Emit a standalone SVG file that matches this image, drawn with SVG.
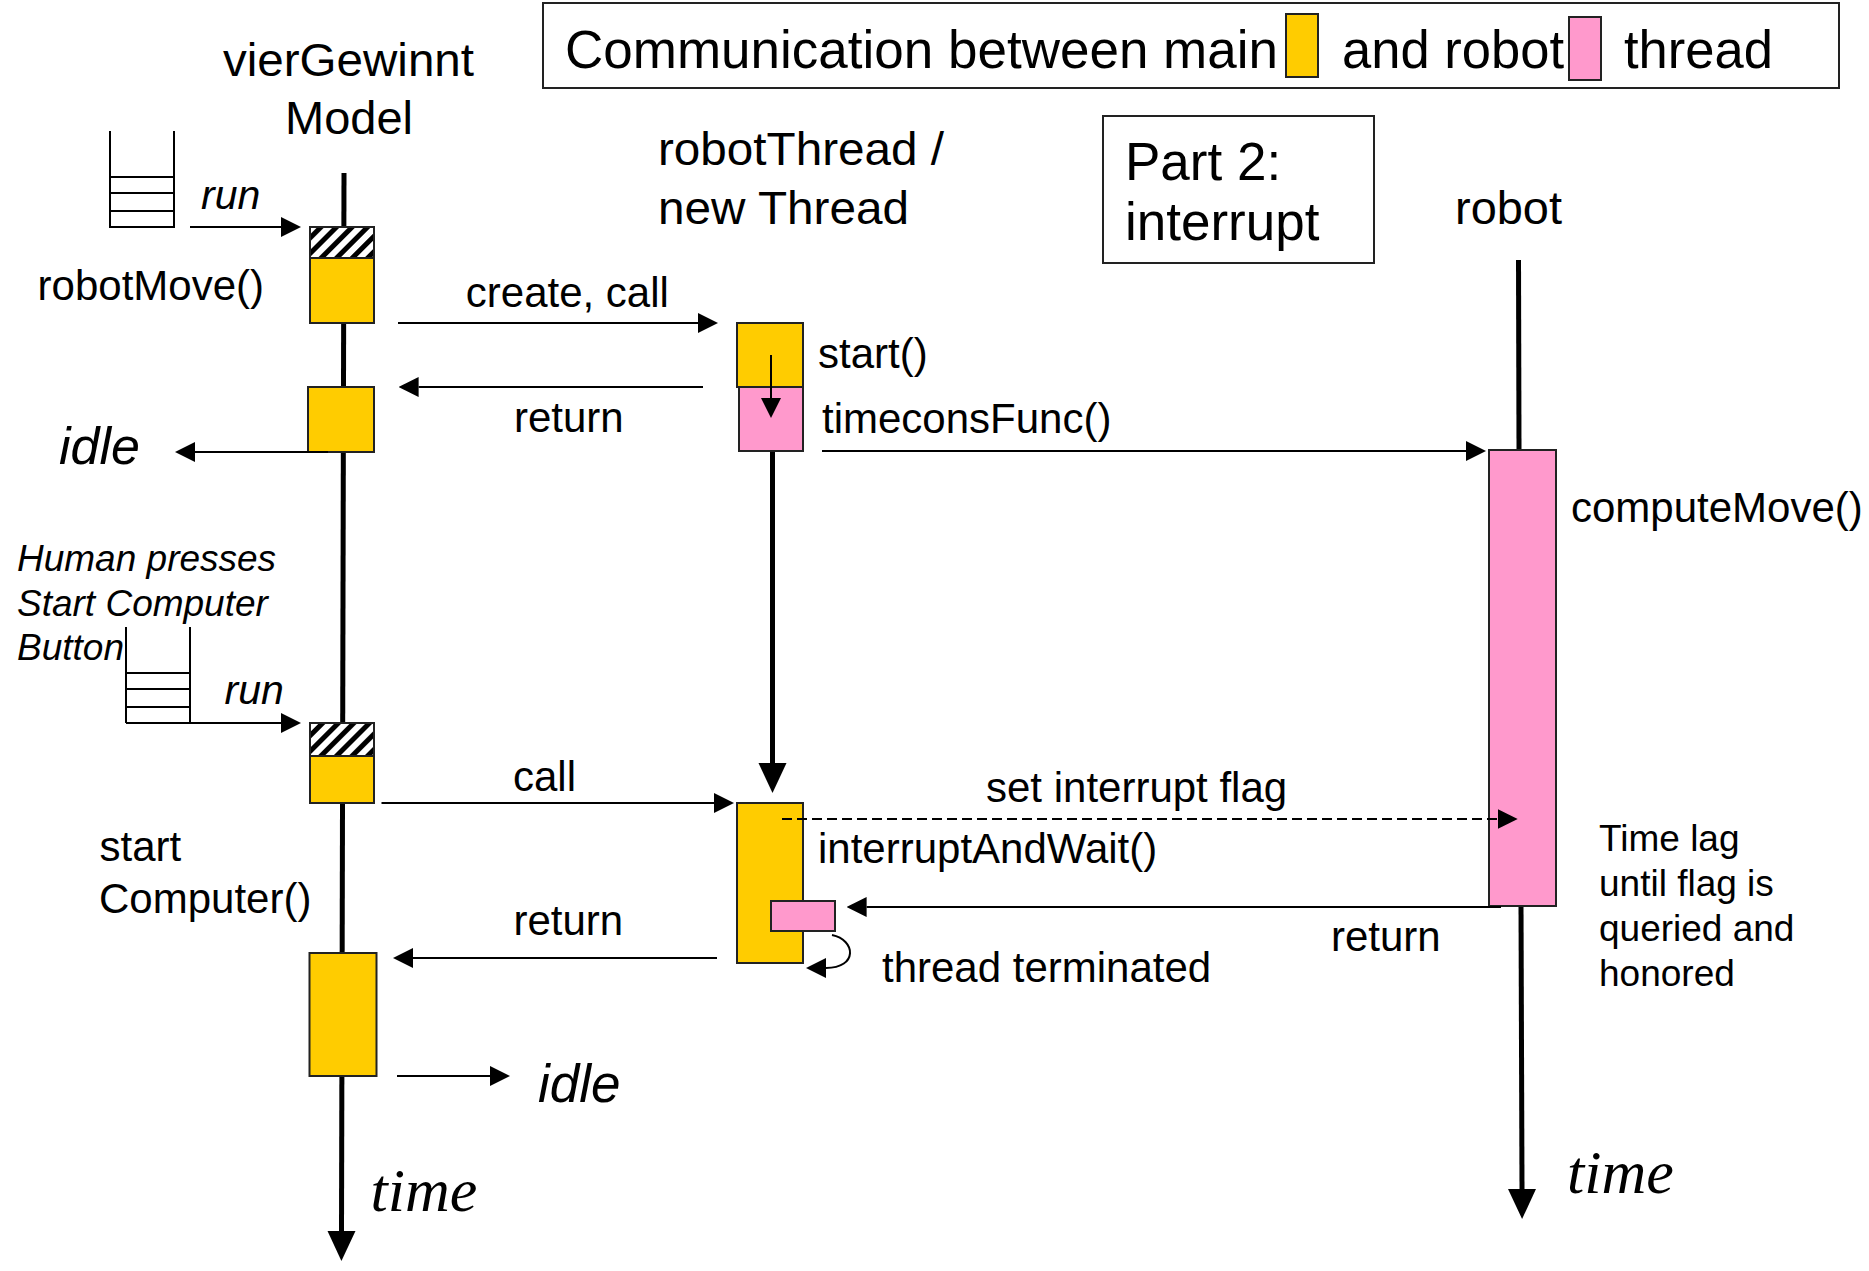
<svg xmlns="http://www.w3.org/2000/svg" width="1869" height="1271" viewBox="0 0 1869 1271">
<style>
text{font-family:"Liberation Sans",Arial,Helvetica,sans-serif;fill:#000}
.h{font-size:47px}
.b{font-size:42px}
.l{font-size:53px}
.n{font-size:37px}
.it{font-style:italic}
.tm{font-family:"Liberation Serif","Times New Roman",serif;font-style:italic;font-size:62px}
.frame{fill:#fff;stroke:#222;stroke-width:2}
.y{fill:#FFCC00;stroke:#222;stroke-width:2}
.p{fill:#FF99CC;stroke:#222;stroke-width:2}
.life{stroke:#000;stroke-width:5;fill:none}
.msg{stroke:#000;stroke-width:2;fill:none}
.stk{stroke:#000;stroke-width:2;fill:none}
</style>
<defs>
<marker id="a" markerUnits="userSpaceOnUse" markerWidth="20" markerHeight="20" viewBox="0 0 20 20" refX="0" refY="10" orient="auto"><path d="M0,0 L20,10 L0,20 z" fill="#000"/></marker>
<marker id="ab" markerUnits="userSpaceOnUse" markerWidth="30" markerHeight="30" viewBox="0 0 30 30" refX="0" refY="15" orient="auto"><path d="M0,1 L30,15 L0,29 z" fill="#000"/></marker>
<pattern id="hatch" width="11" height="11" patternUnits="userSpaceOnUse" patternTransform="rotate(45)"><rect width="11" height="11" fill="#fff"/><rect width="5" height="11" fill="#000"/></pattern>
</defs>
<rect width="1869" height="1271" fill="#fff"/>

<g id="legend">
<rect class="frame" x="543" y="3" width="1296" height="85"/>
<text class="l" x="565" y="68" textLength="713" lengthAdjust="spacingAndGlyphs">Communication between main</text>
<rect class="y" x="1286" y="14" width="32" height="63"/>
<text class="l" x="1342" y="68" textLength="222" lengthAdjust="spacingAndGlyphs">and robot</text>
<rect class="p" x="1569" y="17" width="32" height="63"/>
<text class="l" x="1624" y="68" textLength="149" lengthAdjust="spacingAndGlyphs">thread</text>
</g>

<g id="part2">
<rect class="frame" x="1103" y="116" width="271" height="147"/>
<text class="l" x="1125" y="180">Part 2:</text>
<text class="l" x="1125" y="240">interrupt</text>
</g>

<g id="vierGewinnt">
<text class="h" x="223" y="76" textLength="251" lengthAdjust="spacingAndGlyphs">vierGewinnt</text>
<text class="h" x="285" y="134" textLength="128" lengthAdjust="spacingAndGlyphs">Model</text>
<path class="life" d="M344,173 L341.5,1231" marker-end="url(#ab)"/>
<rect x="310" y="227" width="64" height="31" fill="url(#hatch)" stroke="#222" stroke-width="2"/>
<rect class="y" x="310" y="258" width="64" height="65"/>
<rect class="y" x="308" y="387" width="66" height="65"/>
<rect x="310" y="723" width="64" height="33" fill="url(#hatch)" stroke="#222" stroke-width="2"/>
<rect class="y" x="310" y="756" width="64" height="47"/>
<rect class="y" x="309.5" y="953" width="67" height="123"/>
<text class="b" x="37.6" y="300">robotMove()</text>
<text class="b" x="99.6" y="861">start</text>
<text class="b" x="99" y="913">Computer()</text>
</g>

<g id="queue1">
<path class="stk" d="M110,131 V227 H174 V131 M110,177 H174 M110,193 H174 M110,211 H174"/>
</g>

<g id="queue2">
<path class="stk" d="M126,627 V723 M190,627 V723 M126,673 H190 M126,689 H190 M126,707 H190"/>
<text class="n it" x="17" y="571">Human presses</text>
<text class="n it" x="17" y="616">Start Computer</text>
<text class="n it" x="17" y="660">Button</text>
</g>

<g id="robotThread">
<text class="h" x="658" y="165" textLength="286" lengthAdjust="spacingAndGlyphs">robotThread /</text>
<text class="h" x="658" y="224" textLength="251" lengthAdjust="spacingAndGlyphs">new Thread</text>
<path class="life" d="M772.5,451 L772.5,763" marker-end="url(#ab)"/>
<rect class="y" x="737" y="323" width="66" height="64"/>
<rect class="p" x="739" y="387" width="64" height="64"/>
<rect class="y" x="737" y="803" width="66" height="160"/>
<rect class="p" x="771" y="901" width="64" height="30"/>
<text class="b" x="818" y="368">start()</text>
<text class="b" x="822" y="433">timeconsFunc()</text>
<text class="b" x="818" y="863">interruptAndWait()</text>
</g>

<g id="robot">
<text class="h" x="1455" y="224" textLength="107" lengthAdjust="spacingAndGlyphs">robot</text>
<path class="life" d="M1518.5,260 L1519,450"/>
<path class="life" d="M1521,906 L1522,1189" marker-end="url(#ab)"/>
<rect class="p" x="1489" y="450" width="67" height="456"/>
<text class="b" x="1571" y="522">computeMove()</text>
</g>

<g id="timelag">
<text class="n" x="1599" y="851">Time lag</text>
<text class="n" x="1599" y="896">until flag is</text>
<text class="n" x="1599" y="941">queried and</text>
<text class="n" x="1599" y="986">honored</text>
</g>

<g id="connectors">
<path class="msg" d="M190,227 H281" marker-end="url(#a)"/>
<path class="msg" d="M398,323 H698" marker-end="url(#a)"/>
<path class="msg" d="M703,387 H418.6" marker-end="url(#a)"/>
<path class="msg" d="M328,452 H195" marker-end="url(#a)"/>
<path class="msg" d="M822,451 H1466" marker-end="url(#a)"/>
<path class="msg" d="M771,355 V398" marker-end="url(#a)"/>
<path class="msg" d="M126,723 H281" marker-end="url(#a)"/>
<path class="msg" d="M381.5,803 H714" marker-end="url(#a)"/>
<path class="msg" d="M782,819 H1497.7" stroke-dasharray="10,5" marker-end="url(#a)"/>
<path class="msg" d="M1501,907 H866.6" marker-end="url(#a)"/>
<path class="msg" d="M717,958 H413" marker-end="url(#a)"/>
<path class="msg" d="M397,1076 H490" marker-end="url(#a)"/>
<path class="msg" d="M832,935 C856,940 858,968 826,968" marker-end="url(#a)"/>
<text class="b it" x="201" y="209" style="font-size:41px">run</text>
<text class="b it" x="224.6" y="704" style="font-size:41px">run</text>
<text class="b" x="465.8" y="307">create, call</text>
<text class="b" x="514" y="432">return</text>
<text class="it" x="59" y="464" style="font-size:52px">idle</text>
<text class="b" x="513" y="791">call</text>
<text class="b" x="986" y="802">set interrupt flag</text>
<text class="b" x="1331" y="951">return</text>
<text class="b" x="882" y="982">thread terminated</text>
<text class="b" x="513.4" y="935">return</text>
<text class="it" x="538" y="1102" style="font-size:53px">idle</text>
<text class="tm" x="370.5" y="1211">time</text>
<text class="tm" x="1567" y="1193">time</text>
</g>
</svg>
